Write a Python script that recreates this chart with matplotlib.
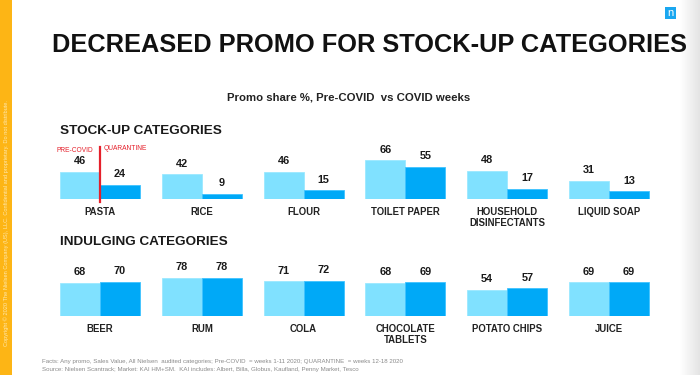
import matplotlib
matplotlib.use("Agg")
import matplotlib.pyplot as plt
import numpy as np
from matplotlib.patches import Rectangle
from matplotlib.colors import LinearSegmentedColormap

plt.rcParams['font.family'] = ['Liberation Sans', 'DejaVu Sans']

stock_cats = ["PASTA", "RICE", "FLOUR", "TOILET PAPER", "HOUSEHOLD\nDISINFECTANTS", "LIQUID SOAP"]
stock_pre = [46, 42, 46, 66, 48, 31]
stock_covid = [24, 9, 15, 55, 17, 13]

indulge_cats = ["BEER", "RUM", "COLA", "CHOCOLATE\nTABLETS", "POTATO CHIPS", "JUICE"]
indulge_pre = [68, 78, 71, 68, 54, 69]
indulge_covid = [70, 78, 72, 69, 57, 69]

LIGHT = "#80E1FF"
DARK = "#00A9F7"
RED = "#E5202B"

W, H = 700, 375
fig = plt.figure(figsize=(7, 3.75), dpi=100)
fig.patch.set_facecolor("white")

def fx(px):
    return px / W

def fy(py):
    return 1 - py / H

# background decorations
bg = fig.add_axes([0, 0, 1, 1], zorder=-10)
bg.axis("off")
bg.add_patch(Rectangle((0, 0), 12, H, color="#FDB515", lw=0))
grad = np.linspace(0, 1, 50).reshape(1, -1)
cmap = LinearSegmentedColormap.from_list("g", ["#ffffff", "#e4e4e4"])
bg.imshow(grad, extent=(680, 700, H, 0), cmap=cmap, aspect="auto")
bg.set_xlim(0, W)
bg.set_ylim(H, 0)
bg.add_patch(Rectangle((665, 7), 11, 12, color="#1AA7F0", lw=0))
bg.text(670.5, 13.5, "n", color="white", fontsize=8, ha="center", va="center")
bg.text(6, 223, "Copyright © 2020 The Nielsen Company (US), LLC. Confidential and proprietary. Do not distribute.",
        rotation=90, fontsize=4.1, color="#FFE9B0", ha="center", va="center")

# titles
fig.text(fx(52), fy(45), "DECREASED PROMO FOR STOCK-UP CATEGORIES", fontsize=18.3,
         fontweight="bold", color="#111111", ha="left", va="center")
fig.text(fx(349), fy(98), "Promo share %, Pre-COVID  vs COVID weeks", fontsize=8.2,
         fontweight="bold", color="#222222", ha="center", va="center")
fig.text(fx(60), fy(131), "STOCK-UP CATEGORIES", fontsize=9.7, fontweight="bold",
         color="#1a1a1a", ha="left", va="center")
fig.text(fx(60), fy(242), "INDULGING CATEGORIES", fontsize=9.7, fontweight="bold",
         color="#1a1a1a", ha="left", va="center")

fig.text(fx(42), fy(362), "Facts: Any promo, Sales Value, All Nielsen  audited categories; Pre-COVID  = weeks 1-11 2020; QUARANTINE  = weeks 12-18 2020",
         fontsize=4.4, color="#8a8a8a", ha="left", va="center")
fig.text(fx(42), fy(370), "Source: Nielsen Scantrack; Market: KAI HM+SM.  KAI includes: Albert, Billa, Globus, Kaufland, Penny Market, Tesco",
         fontsize=4.4, color="#8a8a8a", ha="left", va="center")

left_px, right_px = 49.1, 660.0

def make_row(base_px, px_per_unit, cats, pre, covid):
    hpx = 100 * px_per_unit
    ax = fig.add_axes([fx(left_px), fy(base_px), (right_px - left_px) / W, hpx / H])
    ax.set_xlim(-0.5, 5.5)
    ax.set_ylim(0, 100)
    ax.axis("off")
    x = np.arange(len(cats))
    bw = 0.393
    ax.bar(x - bw / 2, pre, width=bw, color=LIGHT, edgecolor="#9BE9FF", linewidth=0.6)
    ax.bar(x + bw / 2, covid, width=bw, color=DARK, edgecolor="#3FC3FF", linewidth=0.6)
    off = 5.5 / px_per_unit
    for xi, p, c in zip(x, pre, covid):
        ax.text(xi - bw / 2, p + off, str(p), ha="center", va="bottom", fontsize=7.8,
                fontweight="bold", color="#1a1a1a", clip_on=False)
        ax.text(xi + bw / 2, c + off, str(c), ha="center", va="bottom", fontsize=7.8,
                fontweight="bold", color="#1a1a1a", clip_on=False)
    lab_off = 8 / px_per_unit
    for xi, name in zip(x, cats):
        ax.text(xi, -lab_off, name, ha="center", va="top", fontsize=6.9, fontweight="bold",
                color="#222222", linespacing=1.15, clip_on=False)
    return ax

ax1 = make_row(199, 0.59, stock_cats, stock_pre, stock_covid)
ax2 = make_row(316, 0.49, indulge_cats, indulge_pre, indulge_covid)

# red separator on PASTA
ax1.plot([0, 0], [-3 / 0.59, 52 / 0.59], color=RED, lw=1.6, clip_on=False)
fig.text(fx(93), fy(150), "PRE-COVID", fontsize=4.8, color=RED, ha="right", va="center")
fig.text(fx(104), fy(148), "QUARANTINE", fontsize=4.8, color=RED, ha="left", va="center")

fig.savefig("out.png", dpi=100)
